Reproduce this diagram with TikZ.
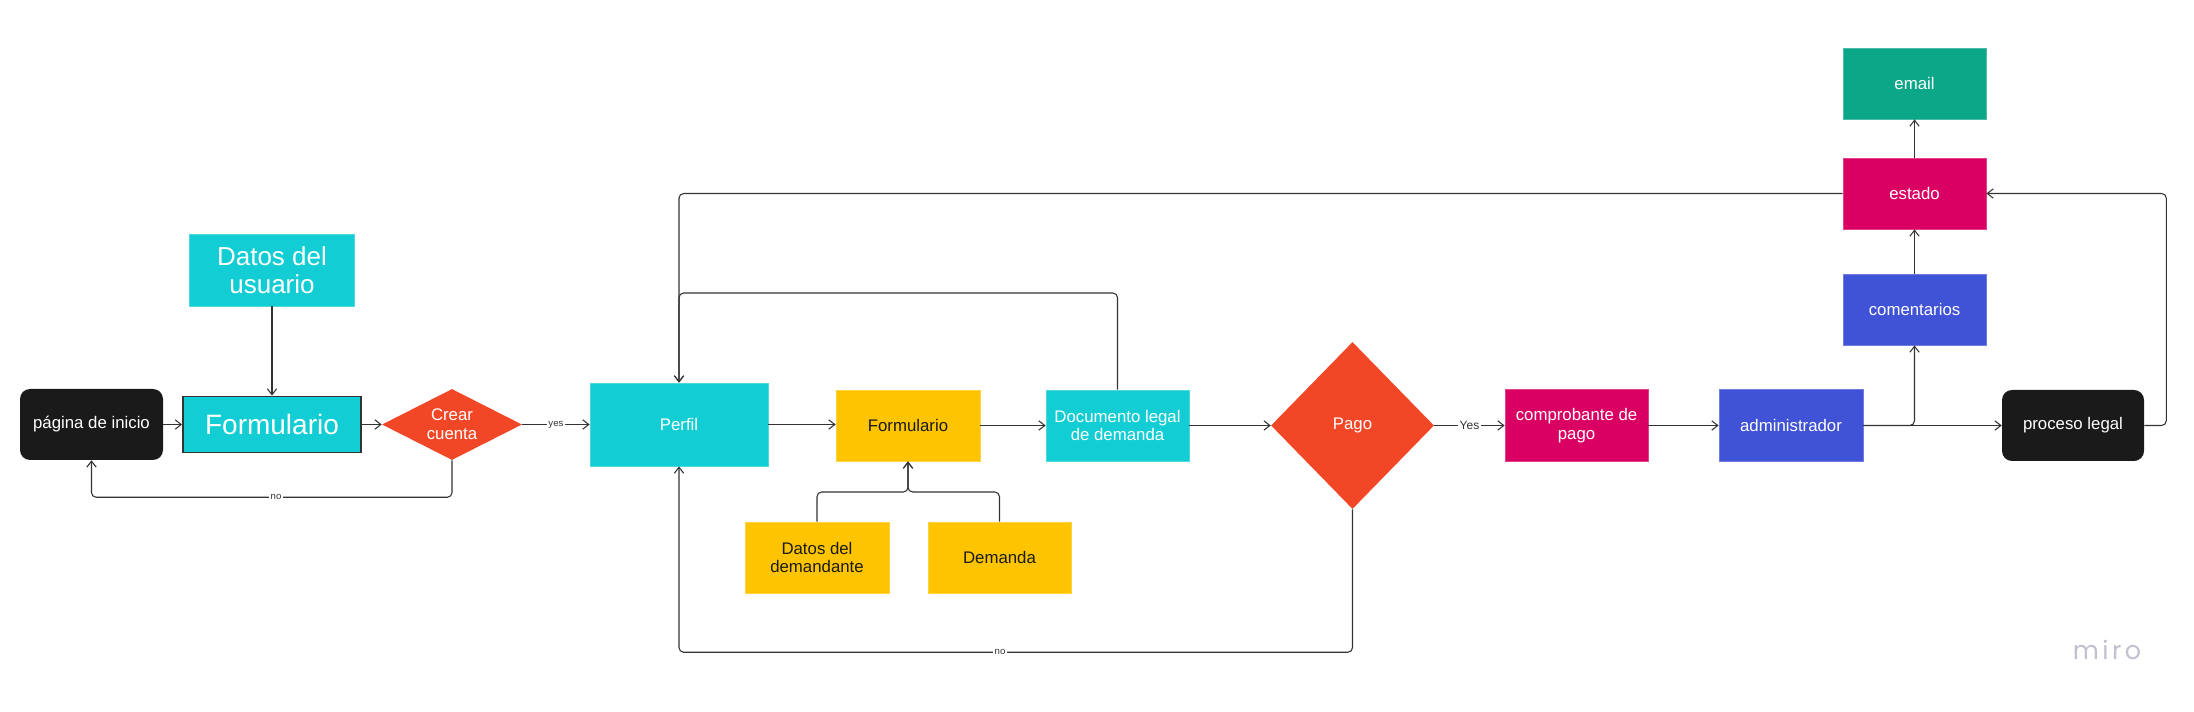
\documentclass[tikz,border=0pt]{standalone}
\usepackage{fontspec}
\setmainfont{Liberation Sans}
\newfontfamily\mirofont{Poppins}
\usetikzlibrary{arrows.meta,shapes.geometric,calc}
\definecolor{mcyan}{HTML}{12CDD4}
\definecolor{myellow}{HTML}{FFC400}
\definecolor{morange}{HTML}{F24726}
\definecolor{mmagenta}{HTML}{DA0063}
\definecolor{mblue}{HTML}{4052D6}
\definecolor{mgreen}{HTML}{0CA789}
\definecolor{mblack}{HTML}{1A1A1A}
\definecolor{linec}{HTML}{333333}
\definecolor{mirogray}{HTML}{C0C1D0}
\tikzset{
  sz/.style 2 args={minimum width=#1*0.75pt, minimum height=#2*0.75pt},
  base/.style={inner sep=0pt, align=center, text=white,
    font=\fontsize{12.6pt}{14.2pt}\selectfont},
  cbox/.style={base, rectangle, fill=#1, draw=#1!75!white, line width=0.6pt},
  rbox/.style={base, rectangle, rounded corners=7.5pt, fill=mblack},
  ybox/.style={cbox=myellow, text=mblack},
  dia/.style={base, diamond, shape aspect=2, fill=morange},
  conn/.style={draw=linec, line width=0.8pt, rounded corners=3.5pt,
    -{Straight Barb[length=4.5pt,width=7pt]}},
  lbl/.style={fill=white, inner sep=1.2pt, text=linec,
    font=\fontsize{7.2pt}{8pt}\selectfont},
  lblb/.style={lbl, font=\fontsize{9pt}{10pt}\selectfont},
}
\begin{document}
\begin{tikzpicture}[x=0.75pt,y=-0.75pt]
\useasboundingbox (0,0) rectangle (2194,712);
\fill[white] (0,0) rectangle (2194,712);

% nodes
\node[rbox, sz={143}{71}] (pagina) at (91.5,424.5) {página de inicio};
\node[cbox=mcyan, draw=linec, line width=1.4pt, sz={178}{56},
      font=\fontsize{21pt}{24pt}\selectfont] (form1) at (272,424.5) {Formulario};
\node[cbox=mcyan, sz={165}{72}, font=\fontsize{19.5pt}{21pt}\selectfont]
      (datosU) at (272,270) {Datos del\\usuario};
\node[dia, sz={140}{71}] (crear) at (452,424.5) {Crear\\cuenta};
\node[cbox=mcyan, sz={178}{83}] (perfil) at (679,424.5) {Perfil};
\node[ybox, sz={144}{71}] (form2) at (908,425.5) {Formulario};
\node[cbox=mcyan, sz={143}{71}] (docu) at (1117.5,425.5) {Documento legal\\de demanda};
\node[ybox, sz={144}{71}] (datosD) at (817,557.5) {Datos del\\demandante};
\node[ybox, sz={143}{71}] (demanda) at (999.5,557.5) {Demanda};
\node[base, diamond, aspect=1, fill=morange, sz={163}{167}] (pago) at (1352.5,425.5) {Pago};
\node[cbox=mmagenta, sz={143}{72}] (compro) at (1576.5,425.5) {comprobante de\\pago};
\node[cbox=mblue, sz={144}{72}] (admin) at (1791,425.5) {administrador};
\node[rbox, sz={142}{71}] (proceso) at (2073,425.5) {proceso legal};
\node[cbox=mblue, sz={143}{71}] (coment) at (1914.5,309.5) {comentarios};
\node[cbox=mmagenta, sz={143}{71}] (estado) at (1914.5,193.5) {estado};
\node[cbox=mgreen, sz={143}{71}] (email) at (1914.5,83.5) {email};
\node[text=mirogray, font=\mirofont\fontsize{19pt}{20pt}\selectfont, inner sep=0pt]
      (miro) at (2107,650) {m\kern2.6pt i\kern2.6pt r\kern2.6pt o};

% helper coordinates
\coordinate (c1) at (679,293);
\coordinate (c2) at (908,492);

% connectors
\draw[conn] (pagina.east) -- (form1.west);
\draw[conn] (datosU.south) -- (form1.north);
\draw[conn] (form1.east) -- (crear.west);
\draw[conn] (crear.east) -- node[lbl] (lyes) {yes} (perfil.west);
\draw[conn] (crear.south) -- ++(0,37) -| (pagina.south);
\node[lbl] (lno1) at (276,497) {no};
\draw[conn] (perfil.east) -- (perfil.east -| form2.west);
\draw[conn] (form2.east) -- (docu.west);
\draw[conn] (docu.east) -- (pago.west);
\draw[conn] (docu.north) |- (c1) -- (perfil.north);
\draw[conn] (estado.west) -| (perfil.north);
\draw[conn] (pago.south) -- ++(0,143) -| (perfil.south);
\node[lbl] (lno2) at (1000,652) {no};
\draw[conn] (datosD.north) |- (c2) -- (form2.south);
\draw[conn] (demanda.north) |- (c2) -- (form2.south);
\draw[conn] (pago.east) -- node[lblb] (lyes2) {Yes} (compro.west);
\draw[conn] (compro.east) -- (admin.west);
\draw[conn] (admin.east) -- (proceso.west);
\draw[conn] (admin.east) -| (coment.south);
\draw[conn] (coment.north) -- (estado.south);
\draw[conn] (estado.north) -- (email.south);
\draw[conn] (proceso.east) -- ++(22,0) |- (estado.east);
\end{tikzpicture}
\end{document}
